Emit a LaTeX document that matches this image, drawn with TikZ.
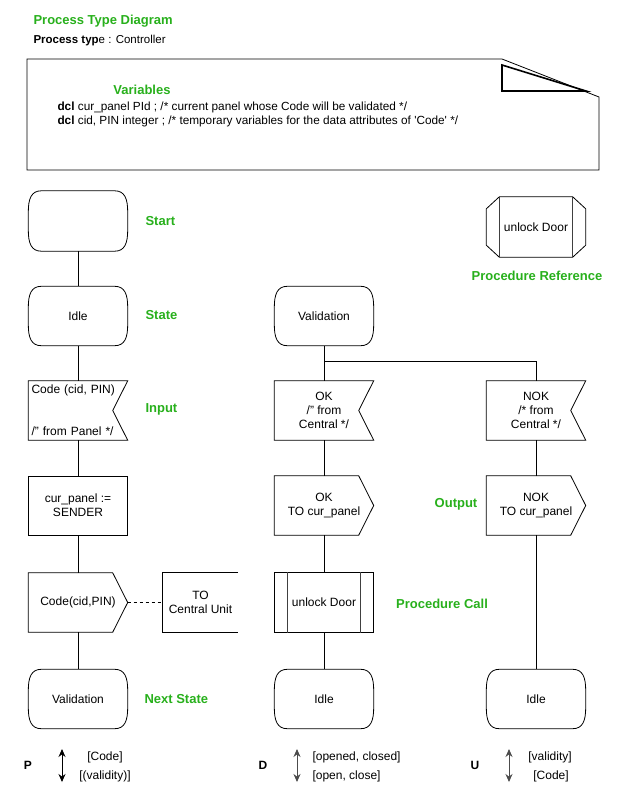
\documentclass[tikz,border=0pt]{standalone}
\usepackage{fontspec}
\setmainfont{Liberation Sans}
\usetikzlibrary{arrows.meta}
\definecolor{labelGreen}{RGB}{40,176,28}
\newcommand{\stateShape}[1]{%%
  %% Flat top and bottom, rounded sides.
  \draw[shapeStyle] ([xshift=13pt]#1.north west) -- ([xshift=-13pt]#1.north east)
    .. controls ([xshift=-3pt]#1.north east) and ([yshift=-8pt]#1.north east) .. ([yshift=-21pt]#1.north east)
    -- ([yshift=21pt]#1.south east)
    .. controls ([yshift=8pt]#1.south east) and ([xshift=-3pt]#1.south east) .. ([xshift=-13pt]#1.south east)
    -- ([xshift=13pt]#1.south west)
    .. controls ([xshift=3pt]#1.south west) and ([yshift=8pt]#1.south west) .. ([yshift=21pt]#1.south west)
    -- ([yshift=-21pt]#1.north west)
    .. controls ([yshift=-8pt]#1.north west) and ([xshift=3pt]#1.north west) .. ([xshift=13pt]#1.north west)
    -- cycle;
}
\newcommand{\inputShape}[1]{%%
  %% A box with a notch on its right side.
  \draw[shapeStyle] (#1.north west) -- (#1.north east) -- ([xshift=-15pt]#1.east)
    -- (#1.south east) -- (#1.south west) -- cycle;
}
\newcommand{\outputShape}[1]{%%
  %% A box pointing to the right.
  \draw[shapeStyle] (#1.north west) -- ([xshift=-15pt]#1.north east) -- (#1.east)
    -- ([xshift=-15pt]#1.south east) -- (#1.south west) -- cycle;
}
\newcommand{\callShape}[1]{%%
  \draw[shapeStyle] (#1.north west) rectangle (#1.south east);
  \draw[innerStyle] ([xshift=13pt]#1.north west) -- ([xshift=13pt]#1.south west);
  \draw[innerStyle] ([xshift=-13pt]#1.north east) -- ([xshift=-13pt]#1.south east);
}
\newcommand{\referenceShape}[1]{%%
  \draw[shapeStyle] ([xshift=13pt]#1.north west) -- ([xshift=-13pt]#1.north east)
    -- ([yshift=-12pt]#1.north east) -- ([yshift=12pt]#1.south east)
    -- ([xshift=-13pt]#1.south east) -- ([xshift=13pt]#1.south west)
    -- ([yshift=12pt]#1.south west) -- ([yshift=-12pt]#1.north west) -- cycle;
  \draw[innerStyle] ([xshift=13pt]#1.north west) -- ([xshift=13pt]#1.south west);
  \draw[innerStyle] ([xshift=-13pt]#1.north east) -- ([xshift=-13pt]#1.south east);
}
\newcommand{\commentShape}[1]{%%
  \draw[shapeStyle] (#1.north east) -- (#1.north west) -- (#1.south west) -- (#1.south east);
}

\begin{document}
\begin{tikzpicture}[%%
  x=1pt,y=-1pt,
  shapeStyle/.style={-,line width=0.8pt},
  innerStyle/.style={-,line width=0.8pt,black!75},
  lineStyle/.style={-,line width=0.8pt},
  dashStyle/.style={-,line width=0.8pt,dashed},
  boxStyle/.style={rectangle,minimum width=99pt,minimum height=59pt,inner sep=0pt,align=center,font=\fontsize{12}{14}\selectfont},
  labelStyle/.style={font=\fontsize{13}{15}\selectfont\bfseries,text=labelGreen},
  legendStyle/.style={font=\fontsize{12}{14}\selectfont},
  letterStyle/.style={font=\fontsize{12}{14}\selectfont\bfseries},
  arrowStyle/.style={{Stealth[length=8pt,width=7pt]}-{Stealth[length=8pt,width=7pt]},line width=0.9pt}
]
\useasboundingbox (0,0) rectangle (618,800);
%%
%% Columns and rows.
\pgfmathsetmacro{\xa}{78}
\pgfmathsetmacro{\xb}{324}
\pgfmathsetmacro{\xc}{536}
\pgfmathsetmacro{\ystate}{316}
\pgfmathsetmacro{\yinput}{410.5}
\pgfmathsetmacro{\ytask}{505.5}
\pgfmathsetmacro{\youtput}{602.5}
\pgfmathsetmacro{\ynext}{699}
%%
%% The heading.
\node[labelStyle,anchor=west] (title) at (30,21) {Process Type Diagram};
\node[font=\fontsize{11.5}{14}\selectfont,anchor=west] (ptype) at (30,41) {\textbf{Process typ}e : Controller};
%%
%% The note with the variables.
\draw[shapeStyle] (27,59) -- (502,59) -- (599,97) -- (599,170) -- (27,170) -- cycle;
\draw[line width=1.6pt] (502,65) -- (502,91) -- (586,91) -- cycle;
\node[labelStyle] (variables) at (142,90) {Variables};
\node[font=\fontsize{11.8}{14}\selectfont,anchor=west,align=left] (dcl) at (54,114)
  {\textbf{dcl} cur\_panel PId ; /* current panel whose Code will be validated */\\
   \textbf{dcl} cid, PIN integer ; /* temporary variables for the data attributes of \textquotesingle Code\textquotesingle{} */};
%%
%% The left column.
\node[boxStyle,minimum height=60pt] (start) at (\xa,221) {};
\node[boxStyle] (idleA) at (\xa,\ystate) {Idle};
\node[boxStyle,text width=93pt,align=left,inner xsep=3pt] (codeIn) at (\xa,\yinput)
  {Code (cid, PIN)\\[28pt]/" from Panel */};
\node[boxStyle,draw,line width=0.8pt] (assign) at (\xa,\ytask) {cur\_panel :=\\SENDER};
\node[boxStyle] (codeOut) at (\xa,\youtput) {Code(cid,PIN)};
\node[boxStyle,minimum width=75pt] (comment) at (200.5,\youtput) {TO\\Central Unit};
\node[boxStyle] (validationA) at (\xa,\ynext) {Validation};
\stateShape{start}
\stateShape{idleA}
\inputShape{codeIn}
\outputShape{codeOut}
\commentShape{comment}
\stateShape{validationA}
\draw[lineStyle] (start) -- (idleA);
\draw[lineStyle] (idleA) -- (codeIn);
\draw[lineStyle] (codeIn) -- (assign);
\draw[lineStyle] (assign) -- (codeOut);
\draw[lineStyle] (codeOut) -- (validationA);
\draw[dashStyle] (codeOut.east) -- (comment.west);
%%
%% The middle column.
\node[boxStyle] (validationB) at (\xb,\ystate) {Validation};
\node[boxStyle] (okIn) at (\xb,\yinput) {OK\\/" from\\Central */};
\node[boxStyle] (okOut) at (\xb,\ytask) {OK\\TO cur\_panel};
\node[boxStyle,minimum height=60pt] (unlockCall) at (\xb,\youtput) {unlock Door};
\node[boxStyle] (idleB) at (\xb,\ynext) {Idle};
\stateShape{validationB}
\inputShape{okIn}
\outputShape{okOut}
\callShape{unlockCall}
\stateShape{idleB}
\draw[lineStyle] (validationB) -- (okIn);
\draw[lineStyle] (okIn) -- (okOut);
\draw[lineStyle] (okOut) -- (unlockCall);
\draw[lineStyle] (unlockCall) -- (idleB);
%%
%% The right column.
\node[boxStyle,minimum height=60pt] (unlockRef) at (\xc,227) {unlock Door};
\node[boxStyle] (nokIn) at (\xc,\yinput) {NOK\\/* from\\Central */};
\node[boxStyle] (nokOut) at (\xc,\ytask) {NOK\\TO cur\_panel};
\node[boxStyle] (idleC) at (\xc,\ynext) {Idle};
\referenceShape{unlockRef}
\inputShape{nokIn}
\outputShape{nokOut}
\stateShape{idleC}
\coordinate (branch) at (\xb,361);
\draw[lineStyle] (branch) -| (nokIn.north);
\draw[lineStyle] (nokIn) -- (nokOut);
\draw[lineStyle] (nokOut) -- (idleC);
%%
%% The green labels.
\node[labelStyle,anchor=west] (startLabel) at (142,221) {Start};
\node[labelStyle,anchor=west] (stateLabel) at (142,315) {State};
\node[labelStyle,anchor=west] (inputLabel) at (142,409) {Input};
\node[labelStyle] (outputLabel) at (456,504) {Output};
\node[labelStyle] (callLabel) at (442,604) {Procedure Call};
\node[labelStyle,anchor=west] (nextLabel) at (141,699) {Next State};
\node[labelStyle] (refLabel) at (537,276) {Procedure Reference};
%%
%% The legend.
\node[letterStyle] (pLetter) at (28,765) {P};
\coordinate (pTop) at (62,749);
\coordinate (pBottom) at (62,782);
\draw[arrowStyle] (pTop) -- (pBottom);
\node[legendStyle] (pUp) at (105,757) {[Code]};
\node[legendStyle] (pDown) at (105,776) {[(validity)]};
\node[letterStyle] (dLetter) at (263,765) {D};
\coordinate (dTop) at (297,749);
\coordinate (dBottom) at (297,782);
\draw[arrowStyle,black!70] (dTop) -- (dBottom);
\node[legendStyle,anchor=west] (dUp) at (309,757) {[opened, closed]};
\node[legendStyle,anchor=west] (dDown) at (309,776) {[open, close]};
\node[letterStyle] (uLetter) at (475,765) {U};
\coordinate (uTop) at (509,749);
\coordinate (uBottom) at (509,782);
\draw[arrowStyle,black!70] (uTop) -- (uBottom);
\node[legendStyle] (uUp) at (550,757) {[validity]};
\node[legendStyle] (uDown) at (551,776) {[Code]};
\end{tikzpicture}
\end{document}
